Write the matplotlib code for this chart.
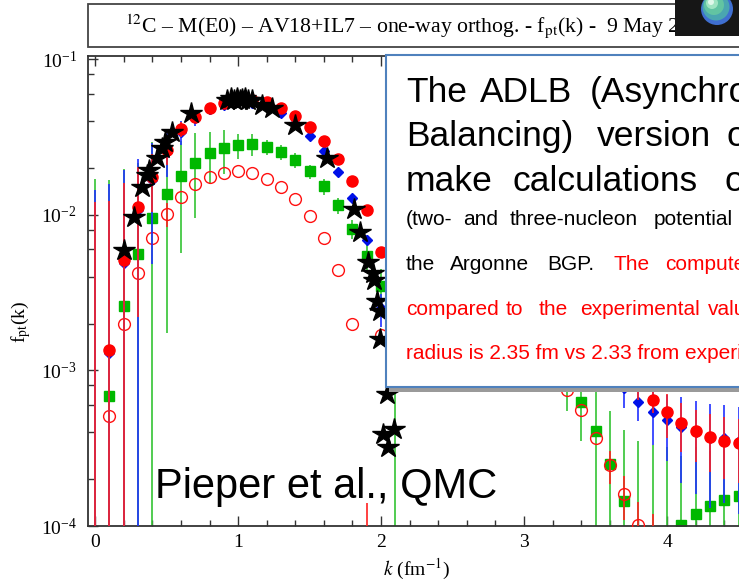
import numpy as np
import matplotlib
matplotlib.use('Agg')
import matplotlib.pyplot as plt
from matplotlib.patches import Rectangle, Circle
from matplotlib.ticker import MultipleLocator, LogLocator, NullFormatter

plt.rcParams['font.family'] = ['Liberation Serif', 'DejaVu Serif']
plt.rcParams['mathtext.fontset'] = 'stix'

# ---- data: f_pt(k) for 12C, M(E0) ----
# filled red circles
red_k = [0.0, 0.1, 0.2, 0.3, 0.4, 0.5, 0.6, 0.7, 0.8, 0.9, 1.0, 1.1, 1.2, 1.3, 1.4,
         1.5, 1.6, 1.7, 1.8, 1.9, 2.0, 3.8, 3.9, 4.0, 4.1, 4.2, 4.3, 4.4, 4.5, 4.6]
red_f = [5e-5, 0.00135, 0.0051, 0.0112, 0.0175, 0.026, 0.0355, 0.0424, 0.0483, 0.052,
         0.0545, 0.0545, 0.053, 0.0483, 0.043, 0.0366, 0.0297, 0.0228, 0.0164, 0.0107,
         0.0058, 8.0e-4, 6.5e-4, 5.4e-4, 4.57e-4, 4.07e-4, 3.72e-4, 3.5e-4, 3.4e-4, 3.3e-4]
red_err = [0.012, 0.011, 0.011, 0.009, 0.007, 0.005, 0.004, 0.003, 0.002, 0.002,
           0.0015, 0.0015, 0.0012, 0.001, 0.001, 0.0008, 0.0006, 0.0005, 0.0004, 0.0003,
           0.0003, 1.5e-4, 1.2e-4, 1.7e-4, 1.6e-4, 1.5e-4, 1.5e-4, 1.5e-4, 1.5e-4, 1.5e-4]

# blue diamonds
blue_k = [0.0, 0.1, 0.2, 0.3, 0.4, 0.5, 0.6, 0.7, 0.8, 0.9, 1.0, 1.1, 1.2, 1.3, 1.4,
          1.5, 1.6, 1.7, 1.8, 1.9, 2.0, 3.7, 3.8, 3.9, 4.0, 4.1, 4.2, 4.3, 4.4, 4.5]
blue_f = [4e-5, 0.0013, 0.0049, 0.0108, 0.0168, 0.0255, 0.034, 0.042, 0.048, 0.051,
          0.053, 0.052, 0.049, 0.045, 0.039, 0.032, 0.0257, 0.0188, 0.0128, 0.0069,
          0.0025, 7.7e-4, 6.3e-4, 5.4e-4, 4.8e-4, 4.3e-4, 4.0e-4, 3.7e-4, 3.7e-4, 3.5e-4]
blue_err = [0.0144, 0.0145, 0.0145, 0.012, 0.012, 0.008, 0.006, 0.005, 0.004, 0.003,
            0.003, 0.002, 0.002, 0.0015, 0.0015, 0.001, 0.001, 0.0008, 0.0006, 0.0005,
            0.0006, 2.0e-4, 1.6e-4, 2.1e-4, 2.2e-4, 2.4e-4, 2.4e-4, 2.4e-4, 2.3e-4, 2.3e-4]

# green squares
green_k = [0.0, 0.1, 0.2, 0.3, 0.4, 0.5, 0.6, 0.7, 0.8, 0.9, 1.0, 1.1, 1.2, 1.3, 1.4,
           1.5, 1.6, 1.7, 1.8, 1.9, 2.0, 2.1, 3.3, 3.4, 3.5, 3.6, 3.7, 3.8, 3.9, 4.0,
           4.1, 4.2, 4.3, 4.4, 4.5]
green_f = [3e-5, 6.8e-4, 0.0026, 0.0056, 0.0095, 0.01355, 0.0177, 0.0215, 0.0249, 0.0268,
           0.028, 0.0284, 0.0272, 0.0252, 0.0225, 0.019, 0.0153, 0.0115, 0.0081, 0.0054,
           0.0035, 0.0015, 8.5e-4, 6.3e-4, 4.1e-4, 2.5e-4, 1.45e-4, 5e-5, 5e-5, 6e-5,
           1.01e-4, 1.2e-4, 1.35e-4, 1.47e-4, 1.55e-4]
green_err = [0.017, 0.016, 0.017, 0.016, 0.02, 0.0118, 0.012, 0.012, 0.009, 0.0085,
             0.005, 0.0045, 0.003, 0.0028, 0.0025, 0.002, 0.0018, 0.0014, 0.0011, 0.001,
             0.001, 0.0016, 3e-4, 2.8e-4, 3.4e-4, 3.0e-4, 2.7e-4, 3.0e-4, 2.8e-4, 2.6e-4,
             1.8e-4, 2.0e-4, 1.7e-4, 1.6e-4, 1.6e-4]

# open red circles
open_k = [0.1, 0.2, 0.3, 0.4, 0.5, 0.6, 0.7, 0.8, 0.9, 1.0, 1.1, 1.2, 1.3, 1.4, 1.5,
          1.6, 1.7, 1.8, 1.9, 2.0, 3.3, 3.4, 3.5, 3.6, 3.7, 3.8, 3.9]
open_f = [5.1e-4, 0.0020, 0.0042, 0.0071, 0.0101, 0.013, 0.0158, 0.0175, 0.0187, 0.019,
          0.0185, 0.017, 0.0151, 0.0126, 0.0098, 0.0071, 0.0044, 0.0020, 1e-5, 0.0017,
          7.5e-4, 5.6e-4, 3.7e-4, 2.45e-4, 1.6e-4, 1.02e-4, 2e-5]
open_err = [0, 0, 0, 0, 1.8e-3, 0, 0, 0, 0, 0,
            0, 0, 0, 0, 0, 0, 0, 0, 1.3e-4, 0,
            0, 0, 0, 6e-5, 5e-5, 4e-5, 1e-4]

# black stars
star_k = [0.20, 0.27, 0.33, 0.36, 0.38, 0.43, 0.47, 0.49, 0.54, 0.67, 0.92, 0.95, 0.97,
          0.99, 1.01, 1.03, 1.05, 1.07, 1.10, 1.17, 1.24, 1.40, 1.62, 1.81, 1.85, 1.91,
          1.94, 1.95, 1.97, 1.99, 1.99, 2.04, 2.01, 2.09, 2.05]
star_f = [0.0059, 0.0097, 0.0151, 0.0180, 0.0195, 0.0231, 0.0268, 0.0293, 0.034, 0.045,
          0.0545, 0.056, 0.055, 0.0565, 0.055, 0.0555, 0.056, 0.0545, 0.055, 0.0505,
          0.0483, 0.0377, 0.0231, 0.0109, 0.0078, 0.0050, 0.0042, 0.0038, 0.0028, 0.0024,
          0.0016, 7.1e-4, 3.9e-4, 4.2e-4, 3.2e-4]

W, H = 739, 580
fig = plt.figure(figsize=(W / 100, H / 100), dpi=100)

# main log plot (right edge runs off the slide)
ax = fig.add_axes([88 / W, 54 / H, 722 / W, 470 / H])
ax.set_yscale('log')
ax.set_xlim(-0.05, 5.0)
ax.set_ylim(1e-4, 10 ** (-4 + 470 / 155.6))

ax.errorbar(green_k, green_f, yerr=green_err, fmt='s', color='#00b800', ms=6.5,
            ecolor='#33c433', elinewidth=1.2, capsize=0, zorder=2)
ax.errorbar(open_k, open_f, yerr=open_err, fmt='o', mfc='none', mec='#ff1010', ms=8.5,
            mew=1.0, ecolor='#ff2020', elinewidth=1.2, capsize=0, zorder=3)
ax.errorbar(blue_k, blue_f, yerr=blue_err, fmt='D', color='#0010e8', ms=5.5,
            ecolor='#2030ff', elinewidth=1.2, capsize=0, zorder=4)
ax.errorbar(red_k, red_f, yerr=red_err, fmt='o', color='#ff0000', ms=8,
            ecolor='#ff2020', elinewidth=1.2, capsize=0, zorder=5)
ax.plot(star_k, star_f, '*', color='black', ms=16, zorder=6)

ax.xaxis.set_major_locator(MultipleLocator(1))
ax.xaxis.set_minor_locator(MultipleLocator(0.2))
ax.yaxis.set_minor_locator(LogLocator(base=10, subs=[2, 4, 6, 8]))
ax.yaxis.set_minor_formatter(NullFormatter())
ax.tick_params(which='both', direction='in', top=True, right=True, colors='#333333',
               labelcolor='black', labelsize=14, width=1)
ax.tick_params(which='major', length=7, pad=6)
ax.tick_params(axis='y', which='major', pad=8)
ax.tick_params(which='minor', length=4.5)
for s in ax.spines.values():
    s.set_color('#333333')
    s.set_linewidth(1.3)

# overlay in pixel coordinates for the slide decorations
ov = fig.add_axes([0, 0, 1, 1])
ov.set_xlim(0, W)
ov.set_ylim(H, 0)
ov.axis('off')
ov.patch.set_visible(False)

# title strip
ov.add_patch(Rectangle((88, 4), 700, 43, fc='white', ec='#444444', lw=1.3))
ov.text(125, 32, r'$^{12}$C – M(E0) – AV18+IL7 – one-way orthog. - f$_{\rm pt}$(k) -  9 May 2013',
        fontsize=15.7, va='baseline', ha='left')

# logo
ov.add_patch(Rectangle((675, 0), 70, 36, fc='#161616', ec='none', zorder=4))
for dx, dy, r, c in [(0, 0, 16, '#3f6fd0'), (-1, -2, 13.5, '#4aa6b0'),
                     (-3, -4, 10, '#62c4a2'), (-5, -6, 6, '#9fe4c2'),
                     (-6, -7, 3, '#e0f8ea')]:
    ov.add_patch(Circle((717 + dx, 9 + dy), r, fc=c, ec='none', zorder=5))

# axis labels
ov.text(21, 322, r'f$_{\rm pt}$(k)', rotation=90, fontsize=14, ha='center', va='center')
ov.text(416, 575, r'$k$ (fm$^{-1}$)', fontsize=14, ha='center', va='baseline')

ov.text(155, 498, 'Pieper et al., QMC', fontsize=30, family='Liberation Sans',
        va='baseline', ha='left')

# text box with shadow
ov.add_patch(Rectangle((389, 59), 420, 333, fc='#9a9a9a', ec='none', zorder=2))
ov.add_patch(Rectangle((386, 55), 420, 332, fc='white', ec='#4f81bd', lw=1.5, zorder=3))


def put_words(words, xs, y, size, color='black'):
    for w, x in zip(words, xs):
        c = color
        if isinstance(w, tuple):
            w, c = w
        ov.text(x, y, w, fontsize=size, family='Liberation Sans', color=c,
                va='baseline', ha='left', zorder=6)


put_words(['The', 'ADLB', '(Asynchronous'], [406, 480, 590], 102, 25.5)
put_words(['Balancing)', 'version', 'of'], [406, 597, 727], 146, 25.5)
put_words(['make', 'calculations', 'of'], [406, 512, 725], 191, 25.5)
put_words(['(two-', 'and', 'three-nucleon', 'potential', 'AV18+IL7)'],
          [406, 463, 510, 654, 745], 225, 15)
put_words(['the', 'Argonne', 'BGP.', ('The', 'red'), ('computed', 'red')],
          [406, 450, 547, 613, 665], 270, 15)
put_words(['compared', 'to', 'the', 'experimental', 'value'],
          [406, 506, 539, 580, 708], 315, 15, color='red')
put_words(['radius is 2.35 fm vs 2.33 from experiment'], [406], 359, 15, color='red')

fig.savefig('out.png', dpi=100)
